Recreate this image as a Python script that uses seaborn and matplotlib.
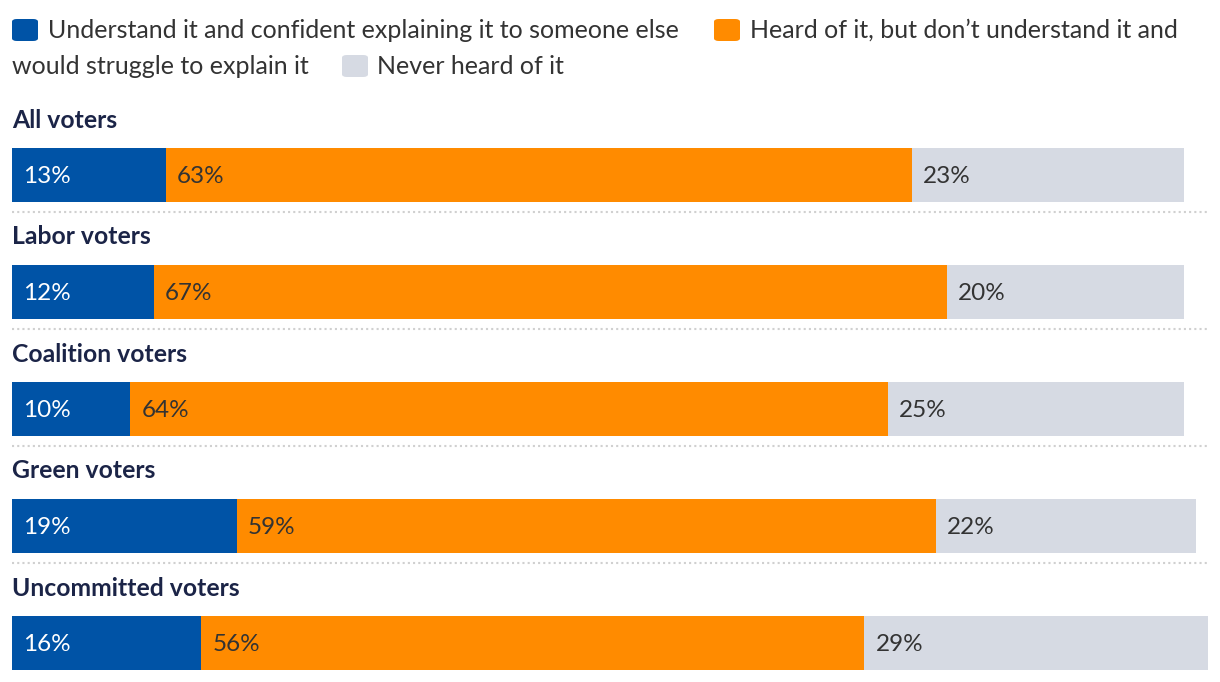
import matplotlib
matplotlib.use("Agg")
import matplotlib.pyplot as plt
import seaborn as sns
import pandas as pd
import numpy as np
from matplotlib.patches import FancyBboxPatch

groups = ["All voters", "Labor voters", "Coalition voters", "Green voters", "Uncommitted voters"]
understand = [13, 12, 10, 19, 16]
heard = [63, 67, 64, 59, 56]
never = [23, 20, 25, 22, 29]
series_names = ["Understand it and confident explaining it to someone else",
                "Heard of it, but don\u2019t understand it and would struggle to explain it",
                "Never heard of it"]

BLUE = "#0053a6"
ORANGE = "#ff8b00"
GREY = "#d6dae3"
NAVY = "#1b2447"
TEXT = "#333333"

sns.set_theme(style="white")
plt.rcParams['font.family'] = ['Lato', 'DejaVu Sans']

W, H = 1220, 682
fig = plt.figure(figsize=(W / 100, H / 100), dpi=100)
ax = fig.add_axes([0, 0, 1, 1])

df = pd.DataFrame({"group": groups, "u": understand, "h": heard, "n": never})
df["c1"] = df["u"]
df["c2"] = df["u"] + df["h"]
df["c3"] = df["u"] + df["h"] + df["n"]

px_per_pct = 11.84
px_per_unit = 117.0
bar_w = 54 / px_per_unit

for col, colr in [("c3", GREY), ("c2", ORANGE), ("c1", BLUE)]:
    sns.barplot(data=df, x=col, y="group", orient="h", color=colr, saturation=1,
                width=bar_w, ax=ax, linewidth=0, edgecolor="none")

ax.set_xlim(-12 / px_per_pct, (W - 12) / px_per_pct)
ax.set_ylim((H - 175) / px_per_unit, -175 / px_per_unit)
ax.axis("off")

LBL = 17.5
for i, g in enumerate(groups):
    # group title
    ax.text(0, i - 55 / px_per_unit, g, fontsize=17.8, fontweight="bold", color=NAVY,
            ha="left", va="center")
    off = 11 / px_per_pct
    u, h, n = understand[i], heard[i], never[i]
    ax.text(off, i + 0.01, f"{u}%", color="white", fontsize=LBL, ha="left", va="center")
    ax.text(u + off, i + 0.01, f"{h}%", color=TEXT, fontsize=LBL, ha="left", va="center")
    ax.text(u + h + off, i + 0.01, f"{n}%", color=TEXT, fontsize=LBL, ha="left", va="center")
    if i < len(groups) - 1:
        ax.plot([0, 101], [i + 37 / px_per_unit] * 2, color="#d0d0d0", lw=1.5,
                linestyle=(0, (1.0, 1.5)), solid_capstyle="butt")

# legend (flow layout, pixel positions)
def fx(x):
    return x / W

def fy(y):
    return 1 - y / H

def swatch(x, y, c):
    p = FancyBboxPatch((fx(x), fy(y + 22)), 26 / W, 22 / H,
                       boxstyle="round,pad=0,rounding_size=0.004",
                       transform=fig.transFigure, facecolor=c, edgecolor="none")
    fig.add_artist(p)

LEG = 18
swatch(12, 19, BLUE)
fig.text(fx(48), fy(30), series_names[0], fontsize=LEG, color=TEXT, va="center", ha="left")
swatch(714, 19, ORANGE)
fig.text(fx(750), fy(30), "Heard of it, but don\u2019t understand it and", fontsize=LEG,
         color=TEXT, va="center", ha="left")
fig.text(fx(12), fy(66), "would struggle to explain it", fontsize=LEG, color=TEXT,
         va="center", ha="left")
swatch(342, 55, GREY)
fig.text(fx(377), fy(66), series_names[2], fontsize=LEG, color=TEXT, va="center", ha="left")

fig.savefig("out.png", dpi=100)
